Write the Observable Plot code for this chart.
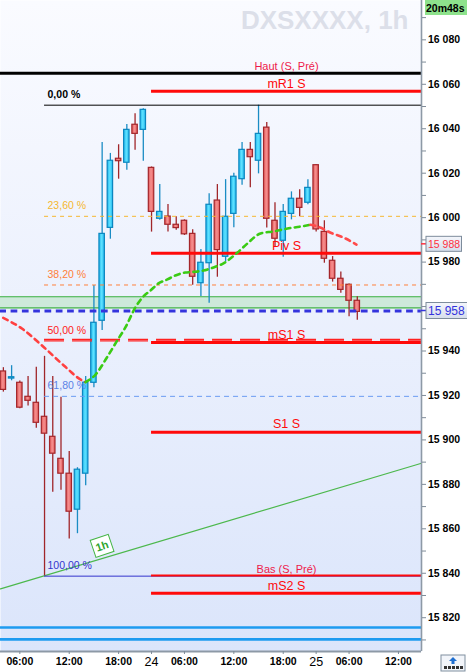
<!DOCTYPE html>
<html><head><meta charset="utf-8">
<script src="https://cdn.jsdelivr.net/npm/d3@7"></script>
<script src="https://cdn.jsdelivr.net/npm/@observablehq/plot@0.6"></script>
<style>body{margin:0;background:#fff;overflow:hidden}svg{display:block}</style>
</head><body><div id="chart"></div>
<script>
// ---------- data ----------
const candleIdx = d3.range(44);
const opens  = [15930.8,15927.6,15925.7,15919.4,15916.7,15910.4,15901.4,15891.5,15884.8,15868.6,15884.8,15925.7,15953.6,15995.4,16026.5,16024.7,16041.8,16039.5,16022.4,15999.5,16000.5,15996.8,15998.6,15992.7,15970.5,15979.5,16007.7,15982.4,16001.7,16017.3,16030.5,16025.6,16040.5,15998.6,15989.6,16001.7,16008.5,16006.7,16023.6,15993.6,15980.6,15972.5,15969.8,15962.6];
const highs  = [15932.5,15933.4,15926.5,15928.5,15932.7,15937.6,15928.5,15919.2,15894.8,15887.5,15928.5,15969.5,16033.8,16028.9,16032.8,16041.9,16046.7,16049.0,16022.8,16014.9,16005.9,16000.4,15999.0,15994.5,15985.7,16010.7,16014.9,16017.1,16020.0,16033.8,16033.8,16050.6,16042.8,16006.7,16005.9,16011.6,16012.5,16017.1,16023.8,15998.6,15982.5,15975.6,15970.2,15964.4];
const lows   = [15921.5,15926.6,15914.0,15915.2,15905.3,15838.8,15876.5,15877.4,15855.4,15857.8,15879.4,15923.5,15949.2,15990.3,16017.3,16021.3,16030.3,16025.4,15993.5,15998.8,15993.5,15994.3,15992.0,15969.6,15964.5,15961.5,15973.2,15980.0,15995.4,16014.6,16013.4,16019.7,15995.3,15986.6,15982.2,15999.0,16000.4,16005.8,15993.5,15979.5,15971.0,15966.0,15955.4,15953.8];
const closes = [15922.5,15928.2,15914.5,15917.6,15907.7,15902.8,15893.8,15884.8,15867.7,15886.6,15925.7,15952.7,15992.7,16025.6,16025.4,16039.5,16037.7,16048.5,16002.6,16002.6,15996.8,15995.3,15992.5,15973.4,15979.7,16005.8,15985.4,16000.4,16018.4,16030.5,16027.2,16037.7,15999.5,15990.5,16002.6,16008.5,16004.4,16013.4,15994.7,15981.5,15972.5,15967.5,15962.6,15957.6];

const hourTickIdx = [2, 8, 14, 22, 28, 34, 42, 48];
const hourTickLbl = ["06:00","12:00","18:00","06:00","12:00","18:00","06:00","12:00"];
const dayTickIdx = [18, 38];
const dayTickLbl = ["24", "25"];
// 15 960 is hidden behind the bid price box in the reference
const yTicks = [15820,15840,15860,15880,15900,15920,15940,15980,16000,16020,16040,16060,16080];
const yMinorTicks = [15810,15830,15850,15870,15890,15910,15930,15950,15960,15970,15990,16010,16030,16050,16070,16090];

const fibNames  = ["0,00 %","23,60 %","38,20 %","50,00 %","61,80 %","100,00 %"];
const fibValues = [16050.6, 16000.6, 15969.7, 15944.6, 15919.6, 15838.7];
const fibStartIdx = 5;

const pivNames  = ["Haut (S, Pré)","mR1 S","Piv S","mS1 S","S1 S","Bas (S, Pré)","mS2 S"];
const pivValues = [16065.0, 16056.9, 15984.0, 15943.8, 15903.5, 15839.0, 15831.0];
const pivStartIdx = 18;

const zoneLow = 15959.4, zoneHigh = 15964.4;
const bidPrice = 15958;
const curvePrice = 15988;
const blueSupports = [15815.6, 15810.3];
const trendPts = [[-0.35, 15833.0], [50.8, 15889.5]];
const tagIdx = 12.5;

const curveRedA  = [[-0.02,15954.9],[2.29,15950.0],[4.92,15941.7],[7.34,15933.5],[9.58,15926.7],[9.98,15926.0]];
const curveGreen = [[9.98,15926.0],[11.2,15929.4],[12.6,15937.2],[13.83,15944.7],[14.84,15950.7],[16.05,15959.7],[17.0,15964.5],[17.87,15967.2],[18.84,15970.4],[19.93,15972.2],[20.9,15974.0],[22.1,15975.3],[23.1,15975.6],[24.3,15976.2],[25.53,15977.6],[26.74,15979.4],[28.44,15984.3],[29.66,15988.4],[31.24,15992.9],[32.82,15993.8],[34.52,15995.1],[36.1,15996.0],[37.3,15996.8]];
const curveRedB  = [[37.3,15996.8],[38.5,15995.6],[39.7,15993.3],[41.3,15991.1],[42.9,15987.9]];

const title = "DXSXXXX, 1h";
const timerText = "20m48s";

// ---------- styles ----------
const xDomain = [-0.35, 50.8];
const yDomain = [15804.8, 16097.7];
const fibStyles = [
  {stroke:"#000000", dash:null,   w:1,   color:"#000000", weight:"bold"},
  {stroke:"#f5b731", dash:"4,4",  w:1,   color:"#f5b731", weight:"normal"},
  {stroke:"#ff7f3a", dash:"4,4",  w:1,   color:"#ff7f3a", weight:"normal"},
  {stroke:"#ff2020", dash:"20,8", w:1.2, color:"#ff2020", weight:"normal"},
  {stroke:"#6b9bf2", dash:"5,4",  w:1,   color:"#5b82e6", weight:"normal"},
  {stroke:"#3333cc", dash:null,   w:1,   color:"#3333cc", weight:"normal"}
];
const pivStyles = [
  {stroke:"#000000", w:3, full:true,  color:"#ee1a4a", size:11, dy:-3},
  {stroke:"#ff0a0a", w:3, full:false, color:"#ff0a0a", size:12.5, dy:-3.5},
  {stroke:"#ff0a0a", w:3, full:false, color:"#ff0a0a", size:12.5, dy:-3.5},
  {stroke:"#ff0a0a", w:3, full:false, color:"#ff0a0a", size:12.5, dy:-4},
  {stroke:"#ff0a0a", w:3, full:false, color:"#ff0a0a", size:12.5, dy:-4},
  {stroke:"#ff0a0a", w:2, full:false, color:"#ee1a4a", size:11, dy:-2.5},
  {stroke:"#ff0a0a", w:3, full:false, color:"#ff0a0a", size:12.5, dy:-3.5}
];
const fmt = d => d3.format(",")(d).replace(",", " ");

const candles = candleIdx.map(i => ({i, o: opens[i], h: highs[i], l: lows[i], c: closes[i]}));
const ups = candles.filter(d => d.c >= d.o);
const downs = candles.filter(d => d.c < d.o);

// defs (gradients)
function defsMark() {
  const g = d3.create("svg:g");
  const defs = g.append("defs");
  const bg = defs.append("linearGradient").attr("id","gBg").attr("x1",0).attr("y1",0).attr("x2",0).attr("y2",1);
  bg.append("stop").attr("offset","0").attr("stop-color","#fafbff");
  bg.append("stop").attr("offset","1").attr("stop-color","#dbe5fb");
  const gb = defs.append("linearGradient").attr("id","gBlue").attr("x1",0).attr("y1",0).attr("x2",1).attr("y2",0);
  gb.append("stop").attr("offset","0").attr("stop-color","#22b8ee");
  gb.append("stop").attr("offset","0.5").attr("stop-color","#5fe2ff");
  gb.append("stop").attr("offset","1").attr("stop-color","#22b8ee");
  const gr = defs.append("linearGradient").attr("id","gRed").attr("x1",0).attr("y1",0).attr("x2",1).attr("y2",0);
  gr.append("stop").attr("offset","0").attr("stop-color","#e25a5a");
  gr.append("stop").attr("offset","0.5").attr("stop-color","#f69090");
  gr.append("stop").attr("offset","1").attr("stop-color","#e25a5a");
  const gbox = defs.append("linearGradient").attr("id","gBox").attr("x1",0).attr("y1",0).attr("x2",0).attr("y2",1);
  gbox.append("stop").attr("offset","0").attr("stop-color","#f4f6fb");
  gbox.append("stop").attr("offset","1").attr("stop-color","#d6deec");
  return g.node();
}

function overlayMark(index, scales, values, dims) {
  const g = d3.create("svg:g").attr("font-family","Liberation Sans, Arial, sans-serif").attr("text-anchor","start");
  const xr = dims.width - dims.marginRight;
  // price boxes
  const boxes = [
    {v: curvePrice, color:"#ff3040", w:35.5, h:15, size:10.5},
    {v: bidPrice, color:"#3333dd", w:42, h:16, size:12}
  ];
  for (const b of boxes) {
    const y = scales.y(b.v);
    g.append("line").attr("x1", xr).attr("x2", xr + 5).attr("y1", y).attr("y2", y).attr("stroke", b.color).attr("stroke-width", 1.5);
    g.append("rect").attr("x", xr + 5).attr("y", y - b.h/2).attr("width", b.w).attr("height", b.h)
      .attr("fill","url(#gBox)").attr("stroke","#7d8c9c").attr("stroke-width",1);
    g.append("text").attr("x", xr + 7).attr("y", y).attr("dy","0.36em").attr("fill", b.color)
      .attr("text-anchor","start").attr("font-size", b.size).text(fmt(b.v));
  }
  // timer box
  g.append("rect").attr("x", xr + 4).attr("y", 0).attr("width", 42).attr("height", 15).attr("fill","#8ee28c");
  g.append("text").attr("x", xr + 5).attr("y", 12).attr("text-anchor","start").attr("font-size", 10.5).attr("font-weight","bold").attr("fill","#000").text(timerText);
  // 1h tag on the trend line
  const [p0, p1] = trendPts;
  const ang = Math.atan2(scales.y(p1[1]) - scales.y(p0[1]), scales.x(p1[0]) - scales.x(p0[0])) * 180 / Math.PI - 2;
  const t = (tagIdx - p0[0]) / (p1[0] - p0[0]);
  const tv = p0[1] + t * (p1[1] - p0[1]);
  const tg = g.append("g").attr("transform", `translate(${scales.x(tagIdx)},${scales.y(tv)}) rotate(${ang})`);
  tg.append("rect").attr("x", -9.5).attr("y", -20.5).attr("width", 19).attr("height", 18)
    .attr("fill","#ffffff").attr("stroke","#44b544").attr("stroke-width",1);
  tg.append("text").attr("x", 0).attr("y", -11.5).attr("dy","0.36em").attr("text-anchor","middle")
    .attr("font-size", 11).attr("font-weight","bold").attr("fill","#2ea52e").text("1h");
  // small button bottom-right
  const bx = xr + 20, by = dims.height - 17;
  g.append("rect").attr("x", bx).attr("y", by).attr("width", 24).attr("height", 16).attr("fill","#f2f5fa").attr("stroke","#8090a0");
  g.append("path").attr("d", `M${bx+12},${by+2} l-4,4 h2.5 v3 h3 v-3 h2.5 z`).attr("fill","#1f6fd0");
  for (let k = 0; k < 5; k++) g.append("rect").attr("x", bx + 3 + k*4).attr("y", by + 11).attr("width", 3).attr("height", 3).attr("fill","#333");
  return g.node();
}

const marks = [
  defsMark,
  Plot.frame({fill: "url(#gBg)", stroke: "none"}),
  Plot.text([title], {frameAnchor:"top-right", dx:-13, dy:10.5, lineAnchor:"top", textAnchor:"end", fontSize:26, fontWeight:"bold", fill:"#dcdfe9"}),
  Plot.rect([zoneLow], {x1: xDomain[0], x2: xDomain[1], y1: zoneLow, y2: zoneHigh, fill: "#cde9da"}),
  Plot.ruleY([zoneLow, zoneHigh], {stroke: "#3cb043", strokeWidth: 1.2}),
  Plot.ruleY(blueSupports, {stroke: "#1e9bf0", strokeWidth: 2.7}),
  Plot.line(trendPts, {x: d => d[0], y: d => d[1], stroke: "#4cb84c", strokeWidth: 1.2}),
  Plot.ruleX(ups, {x: "i", y1: "l", y2: "h", stroke: "#1a8cc4", strokeWidth: 1.3}),
  Plot.ruleX(downs, {x: "i", y1: "l", y2: "h", stroke: "#a0262a", strokeWidth: 1.3}),
  Plot.rect(ups, {x1: d => d.i - 0.33, x2: d => d.i + 0.33, y1: "o", y2: "c", fill: "url(#gBlue)", stroke: "#0b86bf", strokeWidth: 1.2}),
  Plot.rect(downs, {x1: d => d.i - 0.33, x2: d => d.i + 0.33, y1: "o", y2: "c", fill: "url(#gRed)", stroke: "#a3262b", strokeWidth: 1.2}),
];

fibValues.forEach((v, k) => {
  const s = fibStyles[k];
  marks.push(Plot.ruleY([v], {x1: fibStartIdx, x2: xDomain[1], stroke: s.stroke, strokeWidth: s.w, strokeDasharray: s.dash}));
});
pivValues.forEach((v, k) => {
  const s = pivStyles[k];
  marks.push(Plot.ruleY([v], {x1: s.full ? xDomain[0] : pivStartIdx, x2: xDomain[1], stroke: s.stroke, strokeWidth: s.w}));
});
marks.push(Plot.ruleY([fibValues[3]], {x1: fibStartIdx, x2: xDomain[1], stroke: "#ff2020", strokeWidth: 1.2, strokeDasharray: "20,8", dy: -1.5}));
marks.push(Plot.ruleY([bidPrice], {stroke: "#3434dd", strokeWidth: 3, strokeDasharray: "6.7,4.6", strokeDashoffset: 0.7}));
const curveOpts = {x: d => d[0], y: d => d[1], strokeWidth: 2.6, strokeDasharray: "5,4.5", curve: "monotone-x"};
marks.push(Plot.line(curveRedA, {...curveOpts, stroke: "#ff4040"}));
marks.push(Plot.line(curveGreen, {...curveOpts, stroke: "#3acb14"}));
marks.push(Plot.line(curveRedB, {...curveOpts, stroke: "#ff4a4a"}));

fibValues.forEach((v, k) => {
  const s = fibStyles[k];
  marks.push(Plot.text([fibNames[k]], {x: fibStartIdx, y: v, text: d => d, dx: 3, dy: -7, lineAnchor: "bottom", textAnchor: "start", fontSize: 10.5, fontWeight: s.weight, fill: s.color}));
});
const pivLabelX = (pivStartIdx + xDomain[1]) / 2;
pivValues.forEach((v, k) => {
  const s = pivStyles[k];
  marks.push(Plot.text([pivNames[k]], {x: pivLabelX, y: v, text: d => d, dy: s.dy, lineAnchor: "bottom", textAnchor: "middle", fontSize: s.size, fill: s.color}));
});

marks.push(
  Plot.ruleX([xDomain[1]], {stroke: "#8d99a6", strokeWidth: 1.6}),
  Plot.ruleY([yDomain[0]], {stroke: "#8d99a6", strokeWidth: 1.8}),
  Plot.axisY({anchor: "right", ticks: yMinorTicks, tickFormat: () => "", tickSize: 4, stroke: "#7f8c99"}),
  Plot.axisY({anchor: "right", ticks: yTicks, tickFormat: fmt, tickSize: 4, tickPadding: 2.5, fontSize: 10.5, fontWeight: "bold", stroke: "#7f8c99", fill: "#000"}),
  Plot.axisX({anchor: "bottom", ticks: hourTickIdx, tickFormat: d => hourTickLbl[hourTickIdx.indexOf(d)], tickSize: 3, tickPadding: 3.5, fontSize: 10.5, fontWeight: "bold", stroke: "#7f8c99", fill: "#000"}),
  Plot.axisX({anchor: "bottom", ticks: dayTickIdx, tickFormat: d => dayTickLbl[dayTickIdx.indexOf(d)], tickSize: 3, tickPadding: 2.5, fontSize: 12.5, stroke: "#7f8c99", fill: "#000"}),
  overlayMark
);

const chart = Plot.plot({
  width: 467, height: 672,
  marginTop: 0, marginRight: 46, marginBottom: 21, marginLeft: 0,
  x: {type: "linear", domain: xDomain, label: null},
  y: {type: "linear", domain: yDomain, label: null},
  style: {fontFamily: "Liberation Sans, Arial, sans-serif", background: "#ffffff", color: "#000"},
  marks
});
document.getElementById("chart").appendChild(chart);
</script>
</body></html>
